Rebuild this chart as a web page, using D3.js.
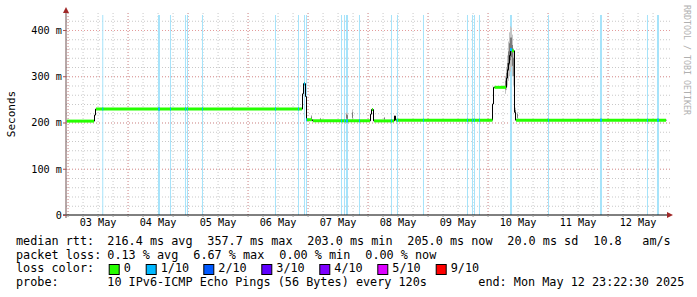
<!DOCTYPE html>
<html>
<head>
<meta charset="utf-8">
<script src="https://cdn.jsdelivr.net/npm/d3@7"></script>
<style>
  body { margin: 0; background: #fff; }
  text { font-family: "DejaVu Sans Mono", monospace; }
</style>
</head>
<body>
<div id="chart"></div>
<script>
// time window of the graph
const startTime = "2025-05-02 23:22:30";
const endTime = "2025-05-12 23:22:30";

// median rtt (ms), value holds from its time until the next one
const medianTimes = ["05-02 23:22", "05-03 10:34", "05-03 10:58", "05-06 21:46", "05-06 22:10",
    "05-06 22:58", "05-06 23:22", "05-07 01:46", "05-08 00:58", "05-08 01:22", "05-08 02:10",
    "05-08 10:34", "05-08 10:58", "05-10 01:58", "05-10 02:22", "05-10 07:22", "05-10 07:46",
    "05-10 08:10", "05-10 08:34", "05-10 08:58", "05-10 09:22", "05-10 10:34", "05-10 10:58"];
const medianValues = [203, 216, 229, 262, 284, 256, 206, 203.5, 218, 228, 203.5, 214, 205,
    240, 276, 296, 314, 328, 345, 357.7, 355, 222, 205];

// packet loss events (1/10), span in rrd steps
const lossTimes = ["05-03 13:53", "05-04 12:10", "05-04 16:58", "05-04 22:58", "05-04 23:46",
    "05-05 05:46", "05-06 10:58", "05-06 20:10", "05-06 22:34", "05-06 23:22", "05-07 13:22",
    "05-07 14:34", "05-07 15:22", "05-07 20:34", "05-08 09:22", "05-08 11:46", "05-08 22:10",
    "05-09 15:46", "05-09 17:46", "05-09 18:34", "05-09 20:34", "05-10 08:58", "05-11 00:10",
    "05-11 20:58", "05-12 15:46", "05-12 19:46"];
const lossSpan = [1, 2, 1, 1, 1, 1, 1, 1, 1, 1, 1, 1, 2, 1, 1, 1, 1, 1, 1, 1, 1, 2, 1, 2, 1, 2];

// smoke (spread of the pings) in ms
const smokeTimes = ["05-05 17:46", "05-07 01:22", "05-07 04:58", "05-07 15:22", "05-07 15:46",
    "05-07 17:46", "05-08 06:34", "05-08 10:34", "05-10 06:58", "05-10 07:22", "05-10 07:46",
    "05-10 08:10", "05-10 08:34", "05-10 08:58", "05-10 09:22", "05-10 09:46", "05-10 10:10",
    "05-10 10:34", "05-10 10:58", "05-10 11:46"];
const smokeLow = [229, 204, 204, 204, 204, 204, 205, 205, 262, 270, 280, 290, 300, 310, 320,
    300, 280, 240, 212, 206];
const smokeHigh = [233, 216, 210, 222, 220, 228, 212, 215, 300, 320, 345, 375, 395, 408, 405,
    390, 360, 300, 232, 222];

const yTicks = [0, 100, 200, 300, 400];
const yTickLabels = ["0", "100 m", "200 m", "300 m", "400 m"];

const lossColors = ["#26ff00", "#00b8ff", "#0059ff", "#5e00ff", "#7e00ff", "#dd00ff", "#ff0000"];
const lossLabels = ["0", "1/10", "2/10", "3/10", "4/10", "5/10", "9/10"];

const legendRtt = ["216.4 ms avg", "357.7 ms max", "203.0 ms min", "205.0 ms now", "20.0 ms sd", "10.8", "am/s"];
const legendLoss = ["0.13 % avg", "6.67 % max", "0.00 % min", "0.00 % now"];

const W = 697, H = 297;
const pLeft = 66, pRight = 666, pTop = 15, pBottom = 215;

const parseFull = d3.timeParse("%Y-%m-%d %H:%M:%S");
const parseShort = s => d3.timeParse("%Y-%m-%d %H:%M")("2025-" + s);
const step = 24 * 60 * 1000; // one pixel of the graph

const t0 = parseFull(startTime), t1 = parseFull(endTime);

const x = d3.scaleTime().domain([t0, t1]).range([pLeft, pRight]);
const y = d3.scaleLinear().domain([0, 432.4]).range([pBottom, pTop]);

const svg = d3.select("#chart").append("svg")
    .attr("width", W).attr("height", H)
    .style("display", "block");

svg.append("rect").attr("width", W).attr("height", H).attr("fill", "#fff");

// grid, minor first
svg.append("g")
    .attr("class", "grid minor")
    .attr("transform", "translate(0," + pBottom + ")")
    .call(d3.axisBottom(x).ticks(d3.timeHour.every(6)).tickSize(-(pBottom - pTop + 2)).tickFormat(""));
svg.append("g")
    .attr("class", "grid minor")
    .attr("transform", "translate(" + pLeft + ",0)")
    .call(d3.axisLeft(y).tickValues(d3.range(20, 432, 20)).tickSize(-(pRight - pLeft + 4)).tickFormat(""));
svg.selectAll(".grid.minor line").attr("stroke", "#c8c8c8").attr("stroke-dasharray", "1,2");

svg.append("g")
    .attr("class", "grid major")
    .attr("transform", "translate(0," + pBottom + ")")
    .call(d3.axisBottom(x).ticks(d3.timeDay.every(1)).tickSize(-(pBottom - pTop + 2)).tickFormat(""));
svg.append("g")
    .attr("class", "grid major")
    .attr("transform", "translate(" + pLeft + ",0)")
    .call(d3.axisLeft(y).tickValues(yTicks.slice(1)).tickSize(-(pRight - pLeft + 4)).tickFormat(""));
svg.selectAll(".grid.major line").attr("stroke", "#e49a9a").attr("stroke-dasharray", "1,2");
svg.selectAll(".grid .domain").remove();

// loss background bars
svg.append("g")
    .selectAll("rect")
    .data(lossTimes.map((t, i) => ({ t: parseShort(t), n: lossSpan[i] })))
    .enter()
    .append("rect")
    .attr("x", d => x(d.t))
    .attr("width", d => x(new Date(+d.t + d.n * step)) - x(d.t))
    .attr("y", pTop)
    .attr("height", pBottom - pTop)
    .attr("fill", "#a6e3fa");

// smoke
const smoke = smokeTimes.map((t, i) => ({ t: parseShort(t), lo: smokeLow[i], hi: smokeHigh[i] }));
svg.append("g")
    .selectAll("rect")
    .data(smoke)
    .enter()
    .append("rect")
    .attr("x", d => x(d.t))
    .attr("width", d => x(new Date(+d.t + step)) - x(d.t))
    .attr("y", d => y(d.hi))
    .attr("height", d => y(d.lo) - y(d.hi))
    .attr("fill", "#c4c4c4");
svg.append("g")
    .selectAll("rect")
    .data(smoke)
    .enter()
    .append("rect")
    .attr("x", d => x(d.t))
    .attr("width", d => x(new Date(+d.t + step)) - x(d.t))
    .attr("y", d => y(d.hi - (d.hi - d.lo) * 0.25))
    .attr("height", d => y(d.lo + (d.hi - d.lo) * 0.25) - y(d.hi - (d.hi - d.lo) * 0.25))
    .attr("fill", "#7a7a7a");

// median
const med = medianTimes.map((t, i) => ({ t: parseShort(t), v: medianValues[i] }));
med.forEach((d, i) => { d.t2 = i < med.length - 1 ? med[i + 1].t : t1; });

svg.append("path")
    .datum(med.concat([{ t: t1, v: med[med.length - 1].v }]))
    .attr("fill", "none")
    .attr("stroke", "#000")
    .attr("stroke-width", 1)
    .attr("d", d3.line().x(d => Math.round(x(d.t)) + 0.5).y(d => y(d.v)).curve(d3.curveStepAfter));

svg.append("g")
    .selectAll("line")
    .data(med.filter(d => x(d.t2) - x(d.t) > 1.5))
    .enter()
    .append("line")
    .attr("x1", d => x(d.t) + 1)
    .attr("x2", d => x(d.t2))
    .attr("y1", d => y(d.v))
    .attr("y2", d => y(d.v))
    .attr("stroke", lossColors[0])
    .attr("stroke-width", 3);

// median coloured by loss where there was loss
function medianAt(t) {
    let v = med[0].v;
    med.forEach(d => { if (d.t <= t) v = d.v; });
    return v;
}
svg.append("g")
    .selectAll("line")
    .data(lossTimes.map((t, i) => ({ t: parseShort(t), n: lossSpan[i] })))
    .enter()
    .append("line")
    .attr("x1", d => x(d.t))
    .attr("x2", d => x(new Date(+d.t + d.n * step)))
    .attr("y1", d => y(medianAt(d.t)))
    .attr("y2", d => y(medianAt(d.t)))
    .attr("stroke", lossColors[1])
    .attr("stroke-width", 3);

// axes
const xAxis = svg.append("g").attr("transform", "translate(0," + pBottom + ")");
xAxis.append("line").attr("x1", pLeft - 3).attr("x2", pLeft + 604).attr("stroke", "#000");
xAxis.append("path").attr("d", "M667,-3L673,0L667,3Z").attr("fill", "#a02828");

const yAxis = svg.append("g").attr("transform", "translate(" + pLeft + ",0)");
yAxis.append("line").attr("y1", pBottom + 3).attr("y2", pTop - 3).attr("stroke", "#6e5050");
yAxis.append("path").attr("d", "M-3," + (pTop - 2) + "L0," + (pTop - 8) + "L3," + (pTop - 2) + "Z").attr("fill", "#a02828");

// small tick marks
svg.append("g")
    .attr("transform", "translate(0," + pBottom + ")")
    .call(d3.axisBottom(x).ticks(d3.timeHour.every(6)).tickSize(2).tickFormat(""))
    .call(g => g.select(".domain").remove())
    .selectAll("line").attr("stroke", "#999");
svg.append("g")
    .attr("transform", "translate(" + pLeft + ",0)")
    .call(d3.axisLeft(y).tickValues(yTicks).tickSize(3).tickFormat(""))
    .call(g => g.select(".domain").remove())
    .selectAll("line").attr("stroke", "#b05050");

// x labels at noon
const noons = d3.timeDay.range(d3.timeDay.ceil(t0), t1).map(d => d3.timeHour.offset(d, 12));
svg.append("g")
    .attr("transform", "translate(0," + pBottom + ")")
    .call(d3.axisBottom(x).tickValues(noons).tickSize(0).tickPadding(4).tickFormat(d3.timeFormat("%d %b")))
    .call(g => g.select(".domain").remove())
    .selectAll("text")
    .attr("font-family", "DejaVu Sans Mono")
    .attr("font-size", "10.2px")
    .attr("fill", "#000");

// y labels
svg.append("g")
    .attr("transform", "translate(" + (pLeft - 3) + ",0)")
    .call(d3.axisLeft(y).tickValues(yTicks).tickSize(0).tickPadding(1).tickFormat((d, i) => yTickLabels[i]))
    .call(g => g.select(".domain").remove())
    .selectAll("text")
    .attr("font-family", "DejaVu Sans Mono")
    .attr("font-size", "10.2px")
    .attr("fill", "#000");

svg.append("text")
    .attr("transform", "translate(11,114) rotate(-90)")
    .attr("text-anchor", "middle")
    .attr("dominant-baseline", "central")
    .attr("font-size", "11px")
    .text("Seconds");

svg.append("text")
    .attr("transform", "translate(684,5) rotate(90)")
    .attr("font-size", "8.3px")
    .attr("fill", "#b0b0b0")
    .text("RRDTOOL / TOBI OETIKER");

// legend
const lg = svg.append("g").attr("font-size", "11.8px").attr("fill", "#000");
const rowY = [245, 258.6, 272.2, 285.8];
lg.append("text").attr("x", 16).attr("y", rowY[0]).text("median rtt:");
const rttX = [107.3, 207.3, 307.3, 407.3, 507.3, 593.3, 642.3];
legendRtt.forEach((s, i) => lg.append("text").attr("x", rttX[i]).attr("y", rowY[0]).text(s));

lg.append("text").attr("x", 16).attr("y", rowY[1]).text("packet loss:");
legendLoss.forEach((s, i) => lg.append("text").attr("x", 107.3 + i * 86).attr("y", rowY[1]).text(s));

lg.append("text").attr("x", 16).attr("y", rowY[2]).text("loss color:");
const boxX = [108.7, 145.7, 203.3, 261.3, 319.3, 377.3, 435.7];
lossColors.forEach((c, i) => {
    lg.append("rect").attr("x", boxX[i] + 0.5).attr("y", 264.5).attr("width", 10).attr("height", 10)
        .attr("fill", c).attr("stroke", "#000").attr("stroke-width", 1);
    lg.append("text").attr("x", boxX[i] + 15).attr("y", rowY[2]).text(lossLabels[i]);
});

lg.append("text").attr("x", 16).attr("y", rowY[3]).text("probe:");
lg.append("text").attr("x", 107.3).attr("y", rowY[3]).text("10 IPv6-ICMP Echo Pings (56 Bytes) every 120s");
lg.append("text").attr("x", 478.3).attr("y", rowY[3]).text("end: Mon May 12 23:22:30 2025");
</script>
</body>
</html>
